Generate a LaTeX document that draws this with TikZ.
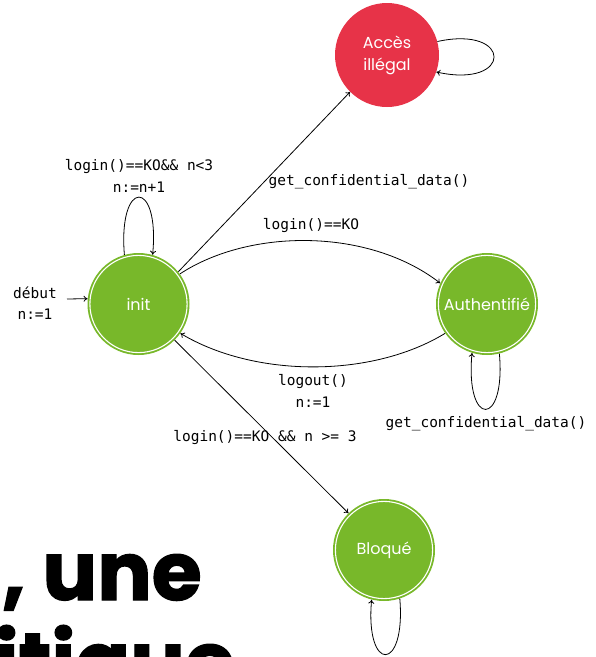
\documentclass[tikz,border=0pt]{standalone}
\usepackage{fontspec}
\setmainfont{Poppins}
\newfontfamily\monofont{DejaVu Sans Mono}
\newfontfamily\headfont[FakeBold=1.6]{Poppins}
\usetikzlibrary{arrows.meta}
\definecolor{stgreen}{HTML}{78B82A}
\definecolor{stred}{HTML}{E73348}
\begin{document}
\begin{tikzpicture}[x=1pt,y=-1pt,
  state/.style={circle, fill=stgreen, minimum size=102pt, inner sep=0pt,
    text=white, align=center, font=\fontsize{16}{21}\selectfont,
    path picture={\draw[white, line width=1.1pt]
      (path picture bounding box.center) circle (48.6pt);}},
  badstate/.style={circle, fill=stred, minimum size=104pt, inner sep=0pt,
    text=white, align=center, font=\fontsize{16}{22}\selectfont},
  lbl/.style={inner sep=0pt, align=center, font=\monofont\fontsize{14.5}{21.5}\selectfont},
  heading/.style={inner sep=0pt, font=\headfont\bfseries\fontsize{81}{90}\selectfont},
  trans/.style={-{To[length=4pt,width=6pt]}, line width=0.8pt, black}]
\useasboundingbox (0,0) rectangle (596,657);

% large slide heading behind the diagram
\begin{scope}
  \clip (0,0) rectangle (596,657);
  \node[heading, anchor=base west] (headA) at (2,600) {, une};
  \node[heading, anchor=base east] (headB) at (235,690) {itique};
\end{scope}

% states
\node[state] (init) at (138.5,304) {init};
\node[state] (auth) at (487,304) {Authentifié};
\node[badstate] (acces) at (387,55) {Accès\\illégal};
\node[state] (bloque) at (384,550) {Bloqué};

% initial arrow
\coordinate (start) at (67,299);
\draw[trans] (start) -- (init.174);
\node[lbl] (lstart) at (35,303) {début\\n:=1};

% transitions
\draw[trans] (init.39) -- (acces.225);
\node[lbl] (lacces) at (369,182) {get\_confidential\_data()};

\draw[trans] (init.36) .. controls (250,228) and (369,228) .. (auth.156);
\node[lbl] (llogin) at (311,226) {login()==KO};

\draw[trans] (auth.215) .. controls (372,378) and (255,378) .. (init.-35);
\node[lbl] (llogout) at (313,391) {logout()\\n:=1};

\draw[trans] (init.-45) -- (bloque.134);
\node[lbl] (lbloque) at (265,438) {login()==KO \&\& n >= 3};

% self loops
\draw[trans] (init.106) .. controls (118,178) and (160,178) .. (init.74);
\node[lbl] (linit) at (139,176) {login()==KO\&\& n<3\\n:=n+1};

\draw[trans] (acces.15) .. controls (513,25) and (513,89) .. (acces.-19);

\draw[trans] (auth.-76) .. controls (506,428) and (465,428) .. (auth.-107);
\node[lbl] (lauth) at (486,424) {get\_confidential\_data()};

\draw[trans] (bloque.-72) .. controls (406,673) and (365,673) .. (bloque.-104);
\end{tikzpicture}
\end{document}
